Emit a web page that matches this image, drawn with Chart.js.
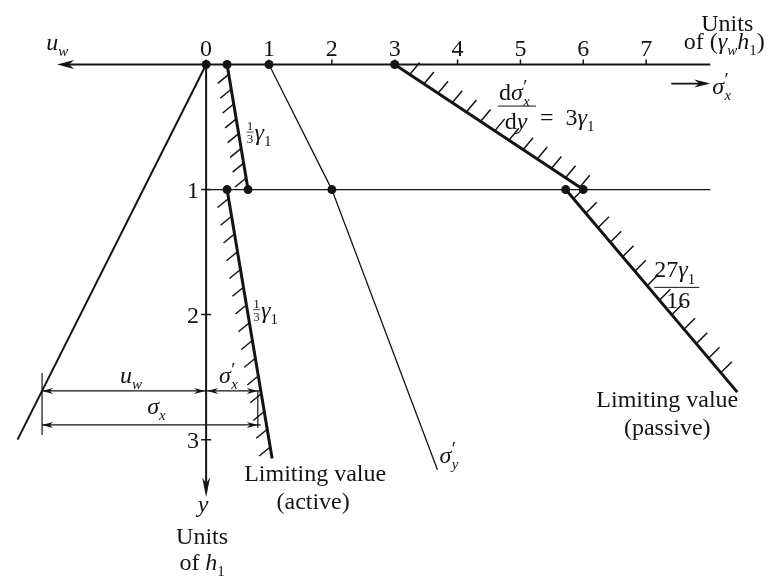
<!DOCTYPE html>
<html>
<head>
<meta charset="utf-8">
<script src="https://cdn.jsdelivr.net/npm/chart.js@4.4.1/dist/chart.umd.min.js"></script>
<style>
  html, body { margin: 0; padding: 0; background: #fff; }
  canvas { display: block; }
</style>
</head>
<body>
<canvas id="chart" width="773" height="581"></canvas>
<script>
// horizontal stress axis, units of (γw h1)
const stressTicks = [0, 1, 2, 3, 4, 5, 6, 7];
const stressAxisRange = [-2.37, 8.02];
// depth axis, units of h1
const depthTicks = [1, 2, 3];
const depthAxisEnd = 3.46;
const waterTableDepth = 1;

// pore pressure u_w (drawn to the left of the origin)
const poreDepth = [0, 3.0];
const poreValue = [0, 3.0];
// vertical effective stress σ'y
const verticalDepth = [0, 1, 3.24];
const verticalValue = [1, 2, 3.68];
// active limit, above and below the water table
const activeUpperDepth = [0, 1];
const activeUpperValue = [1 / 3, 2 / 3];
const activeLowerDepth = [1, 3.15];
const activeLowerValue = [1 / 3, 1.05];
// passive limit, above and below the water table
const passiveUpperDepth = [0, 1];
const passiveUpperValue = [3, 6];
const passiveLowerDepth = [1, 2.62];
const passiveLowerValue = [5.72, 8.45];

// states marked with dots
const dotDepth = [0, 0, 0, 0, 1, 1, 1, 1, 1];
const dotValue = [0, 1 / 3, 1, 3, 1 / 3, 2 / 3, 2, 5.72, 6];

// depth at which u_w, σ'x and σx are dimensioned
const dimDepth = 2.61;

const INK = '#141414';
const serif = "'Liberation Serif', 'DejaVu Serif', serif";
const FS = 24;

const toPoints = (vals, depths, sign = 1) => depths.map((d, i) => ({ x: sign * vals[i], y: d }));

const lineSet = (vals, depths, width, sign) => ({
  data: toPoints(vals, depths, sign),
  showLine: true,
  borderColor: INK,
  borderWidth: width,
  pointRadius: 0,
  fill: false,
  order: 1
});

function fontOf(seg, size) {
  return (seg.i ? 'italic ' : '') + Math.round(size * (seg.s || 1)) + 'px ' + serif;
}

// draws a run of text pieces (italic, sub/superscripts) on one baseline
function rich(ctx, segs, x, y, size, align) {
  let cx = 0, start = 0;
  const parts = [];
  segs.forEach(seg => {
    ctx.font = fontOf(seg, size);
    const w = ctx.measureText(seg.t).width;
    const sx = seg.same ? start : cx + (seg.dx || 0) * size;
    parts.push({ seg, sx });
    start = sx;
    cx = Math.max(cx, sx + w);
  });
  const x0 = align === 'center' ? x - cx / 2 : align === 'right' ? x - cx : x;
  ctx.textAlign = 'left';
  ctx.textBaseline = 'alphabetic';
  parts.forEach(p => {
    ctx.font = fontOf(p.seg, size);
    ctx.fillText(p.seg.t, x0 + p.sx, y + (p.seg.dy || 0) * size);
  });
  return cx;
}

const sub = (t, italic = true) => ({ t, i: italic, s: 0.62, dy: 0.26 });
const prime = { t: '′', s: 0.8, dy: -0.3, dx: 0.02 };
const sigmaPrime = (s) => [{ t: 'σ', i: true }, prime, Object.assign(sub(s), { same: true })];
const gamma1 = [{ t: 'γ', i: true }, sub('1', false)];

function arrowHead(ctx, x, y, ang, len, half) {
  ctx.save();
  ctx.translate(x, y);
  ctx.rotate(ang);
  ctx.beginPath();
  ctx.moveTo(0, 0);
  ctx.lineTo(-len, -half);
  ctx.lineTo(-len * 0.7, 0);
  ctx.lineTo(-len, half);
  ctx.closePath();
  ctx.fill();
  ctx.restore();
}

function hatch(ctx, a, b, dir, gap, lead, tail) {
  const L = Math.hypot(b.x - a.x, b.y - a.y);
  const ux = (b.x - a.x) / L, uy = (b.y - a.y) / L;
  for (let s = lead; s <= L - tail; s += gap) {
    const x = a.x + ux * s, y = a.y + uy * s;
    ctx.moveTo(x, y);
    ctx.lineTo(x + dir[0], y + dir[1]);
  }
}

// small 1/3 fraction followed by γ1
function thirdGamma(ctx, x, y) {
  ctx.textAlign = 'center';
  ctx.textBaseline = 'alphabetic';
  ctx.font = '13px ' + serif;
  ctx.fillText('1', x + 3.5, y - 10);
  ctx.fillText('3', x + 3.5, y + 3);
  ctx.beginPath();
  ctx.lineWidth = 0.8;
  ctx.moveTo(x, y - 8);
  ctx.lineTo(x + 7, y - 8);
  ctx.stroke();
  rich(ctx, gamma1, x + 8, y, FS, 'left');
}

const diagram = {
  id: 'diagram',
  beforeDatasetsDraw(chart) {
    const { ctx, scales: { x: sx, y: sy } } = chart;
    const P = (v, d) => ({ x: sx.getPixelForValue(v), y: sy.getPixelForValue(d) });
    ctx.save();
    ctx.strokeStyle = INK;
    ctx.fillStyle = INK;

    const left = P(stressAxisRange[0], 0), right = P(stressAxisRange[1], 0), o = P(0, 0);
    const bottom = P(0, depthAxisEnd);

    // axes
    ctx.lineWidth = 2;
    ctx.beginPath();
    ctx.moveTo(left.x + 6, left.y);
    ctx.lineTo(right.x, right.y);
    ctx.moveTo(o.x, o.y);
    ctx.lineTo(bottom.x, bottom.y - 6);
    ctx.stroke();
    arrowHead(ctx, left.x, left.y, Math.PI, 17, 4.5);
    arrowHead(ctx, bottom.x, bottom.y, Math.PI / 2, 20, 4);

    // water table line
    const wt0 = P(0, waterTableDepth), wt1 = P(stressAxisRange[1], waterTableDepth);
    ctx.lineWidth = 1.3;
    ctx.beginPath();
    ctx.moveTo(wt0.x, wt0.y);
    ctx.lineTo(wt1.x, wt1.y);
    ctx.stroke();

    // ticks
    ctx.lineWidth = 1.5;
    ctx.beginPath();
    stressTicks.forEach(t => {
      const p = P(t, 0);
      ctx.moveTo(p.x, p.y);
      ctx.lineTo(p.x, p.y - 5);
    });
    depthTicks.forEach(d => {
      const p = P(0, d);
      ctx.moveTo(p.x - 5, p.y);
      ctx.lineTo(p.x + 5, p.y);
    });
    ctx.stroke();
    ctx.restore();
  },
  afterDatasetsDraw(chart) {
    const { ctx, scales: { x: sx, y: sy } } = chart;
    const P = (v, d) => ({ x: sx.getPixelForValue(v), y: sy.getPixelForValue(d) });
    ctx.save();
    ctx.strokeStyle = INK;
    ctx.fillStyle = INK;

    // hatching on the failure side of the limiting lines
    const last = a => a[a.length - 1];
    ctx.lineWidth = 1.5;
    ctx.beginPath();
    hatch(ctx, P(activeUpperValue[0], activeUpperDepth[0]), P(last(activeUpperValue), last(activeUpperDepth)), [-11, 9], 15, 10, 6);
    hatch(ctx, P(activeLowerValue[0], activeLowerDepth[0]), P(last(activeLowerValue), last(activeLowerDepth)), [-11, 9], 18, 9, 4);
    hatch(ctx, P(passiveUpperValue[0], passiveUpperDepth[0]), P(last(passiveUpperValue), last(passiveUpperDepth)), [10, -12], 17, 18, 0);
    hatch(ctx, P(passiveLowerValue[0], passiveLowerDepth[0]), P(last(passiveLowerValue), last(passiveLowerDepth)), [11, -11], 19, 12, 8);
    ctx.stroke();

    // dimension lines for u_w, σ'x and σx
    const uw = -dimDepth;
    const sxActive = activeLowerValue[0] + (dimDepth - activeLowerDepth[0]) *
      (last(activeLowerValue) - activeLowerValue[0]) / (last(activeLowerDepth) - activeLowerDepth[0]);
    const r1 = P(uw, dimDepth), r0 = P(0, dimDepth), r2 = P(sxActive, dimDepth);
    const row2 = r1.y + 34;
    ctx.lineWidth = 1.2;
    ctx.beginPath();
    ctx.moveTo(r1.x, r1.y); ctx.lineTo(r2.x, r2.y);
    ctx.moveTo(r1.x, row2); ctx.lineTo(r2.x, row2);
    ctx.moveTo(r1.x, r1.y - 18); ctx.lineTo(r1.x, row2 + 10);
    ctx.moveTo(r2.x - 3, r2.y); ctx.lineTo(r2.x - 3, row2 + 3);
    ctx.stroke();
    const ah = (x, y, a) => arrowHead(ctx, x, y, a, 11, 3);
    ah(r1.x, r1.y, Math.PI); ah(r0.x - 1, r0.y, 0);
    ah(r0.x + 1, r0.y, Math.PI); ah(r2.x - 3, r2.y, 0);
    ah(r1.x, row2, Math.PI); ah(r2.x - 3, row2, 0);

    // σ'x direction arrow
    const right = P(stressAxisRange[1], 0);
    ctx.lineWidth = 1.8;
    ctx.beginPath();
    ctx.moveTo(right.x - 39, right.y + 19);
    ctx.lineTo(right.x - 4, right.y + 19);
    ctx.stroke();
    arrowHead(ctx, right.x, right.y + 19, 0, 16, 4);

    // tick labels
    ctx.textAlign = 'center';
    ctx.textBaseline = 'alphabetic';
    ctx.font = FS + 'px ' + serif;
    stressTicks.forEach(t => {
      const p = P(t, 0);
      ctx.fillText(String(t), p.x, p.y - 9);
    });
    ctx.textAlign = 'right';
    depthTicks.forEach(d => {
      const p = P(0, d);
      ctx.fillText(String(d), p.x - 7, p.y + 8);
    });

    // axis titles
    const left = P(stressAxisRange[0], 0);
    rich(ctx, [{ t: 'u', i: true }, sub('w')], left.x - 11, left.y - 15, FS, 'left');
    rich(ctx, [{ t: 'Units' }], right.x + 17, right.y - 34, FS, 'center');
    rich(ctx, [{ t: 'of (' }, { t: 'γ', i: true }, sub('w'), { t: 'h', i: true }, sub('1', false), { t: ')' }],
      right.x + 14, right.y - 16, FS, 'center');
    rich(ctx, sigmaPrime('x'), right.x + 2, right.y + 29, FS, 'left');

    const bottom = P(0, depthAxisEnd);
    rich(ctx, [{ t: 'y', i: true }], bottom.x - 3, bottom.y + 15, FS, 'center');
    rich(ctx, [{ t: 'Units' }], bottom.x - 4, bottom.y + 47, FS, 'center');
    rich(ctx, [{ t: 'of ' }, { t: 'h', i: true }, sub('1', false)], bottom.x - 4, bottom.y + 73, FS, 'center');

    // gradients of the limiting lines
    const au = P(0.5, 0.5);
    thirdGamma(ctx, au.x + 9, au.y + 13);
    const al = P(2 / 3, 2);
    thirdGamma(ctx, al.x + 5, al.y + 3);

    const pu = P(4.5, 0.5);
    const fx = pu.x + 10, fy = pu.y - 21;
    rich(ctx, [{ t: 'd' }].concat(sigmaPrime('x')), fx, fy - 6, FS, 'left');
    ctx.lineWidth = 1;
    ctx.beginPath();
    ctx.moveTo(fx - 1, fy); ctx.lineTo(fx + 37, fy);
    ctx.stroke();
    rich(ctx, [{ t: 'd' }, { t: 'y', i: true }], fx + 17, fy + 23, FS, 'center');
    rich(ctx, [{ t: '=  3' }].concat(gamma1), fx + 41, fy + 19, FS, 'left');

    const pl = P(passiveLowerValue[0] + 0.75 * 27 / 16, 1.75);
    const gx = pl.x + 9, gy = pl.y + 4;
    rich(ctx, [{ t: '27' }].concat(gamma1), gx, gy - 10, FS, 'left');
    ctx.beginPath();
    ctx.moveTo(gx, gy); ctx.lineTo(gx + 45, gy);
    ctx.stroke();
    rich(ctx, [{ t: '16' }], gx + 24, gy + 21, FS, 'center');

    // limiting value captions
    const ae = P(last(activeLowerValue), last(activeLowerDepth));
    rich(ctx, [{ t: 'Limiting value' }], ae.x + 43, ae.y + 23, FS, 'center');
    rich(ctx, [{ t: '(active)' }], ae.x + 41, ae.y + 51, FS, 'center');
    const pe = P(last(passiveLowerValue), last(passiveLowerDepth));
    rich(ctx, [{ t: 'Limiting value' }], pe.x - 70, pe.y + 15, FS, 'center');
    rich(ctx, [{ t: '(passive)' }], pe.x - 70, pe.y + 43, FS, 'center');

    const ve = P(last(verticalValue), last(verticalDepth));
    rich(ctx, sigmaPrime('y'), ve.x + 2, ve.y - 7, FS, 'left');

    // dimension labels
    rich(ctx, [{ t: 'u', i: true }, sub('w')], (r1.x + r0.x) / 2 + 7, r1.y - 8, FS, 'center');
    rich(ctx, sigmaPrime('x'), (r0.x + r2.x) / 2 - 5, r1.y - 8, FS, 'center');
    rich(ctx, [{ t: 'σ', i: true }, sub('x')], (r1.x + r2.x) / 2 + 5, row2 - 11, FS, 'center');

    ctx.restore();
  }
};

new Chart(document.getElementById('chart'), {
  type: 'scatter',
  data: {
    datasets: [
      {
        data: toPoints(dotValue, dotDepth),
        showLine: false,
        pointRadius: 4.5,
        pointBackgroundColor: INK,
        pointBorderWidth: 0,
        order: 0
      },
      lineSet(poreValue, poreDepth, 2, -1),
      lineSet(verticalValue, verticalDepth, 1.3),
      lineSet(activeUpperValue, activeUpperDepth, 3),
      lineSet(activeLowerValue, activeLowerDepth, 3),
      lineSet(passiveUpperValue, passiveUpperDepth, 3),
      lineSet(passiveLowerValue, passiveLowerDepth, 3)
    ]
  },
  options: {
    responsive: false,
    devicePixelRatio: 1,
    animation: false,
    events: [],
    layout: { padding: 0 },
    plugins: { legend: { display: false }, tooltip: { enabled: false } },
    scales: {
      x: { type: 'linear', display: false, min: -204 / 63.6, max: 569 / 63.6 },
      y: { type: 'linear', display: false, reverse: true, min: -61 / 127, max: 520 / 127 }
    }
  },
  plugins: [diagram]
});
</script>
</body>
</html>
